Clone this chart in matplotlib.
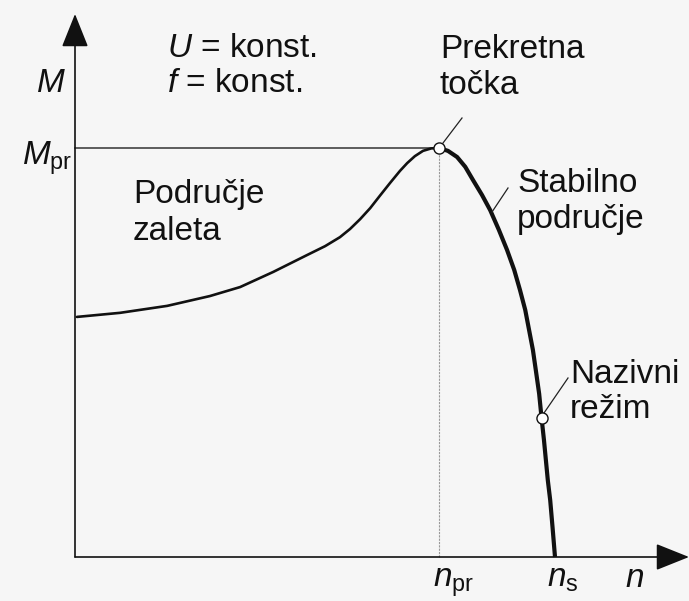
import matplotlib
matplotlib.use("Agg")
import matplotlib.pyplot as plt

plt.rcParams['font.family'] = ['Liberation Sans', 'DejaVu Sans']
plt.rcParams['mathtext.fontset'] = 'custom'
plt.rcParams['mathtext.rm'] = 'Liberation Sans'
plt.rcParams['mathtext.it'] = 'Liberation Sans:italic'

# torque-speed curve, n in units of n_s, M in units of M_pr
n_start = [0.004, 0.094, 0.192, 0.281, 0.344, 0.413, 0.483, 0.521, 0.552,
           0.573, 0.594, 0.615, 0.635, 0.656, 0.677, 0.692, 0.708, 0.725,
           0.742, 0.758]
m_start = [0.587, 0.597, 0.614, 0.638, 0.660, 0.697, 0.738, 0.760, 0.782,
           0.802, 0.826, 0.853, 0.883, 0.914, 0.944, 0.963, 0.980, 0.993,
           0.999, 1.000]
n_stable = [0.758, 0.777, 0.796, 0.813, 0.829, 0.848, 0.865, 0.883, 0.900,
            0.915, 0.927, 0.938, 0.946, 0.954, 0.960, 0.967, 0.972, 0.977,
            0.981, 0.985, 0.990, 0.995, 1.000]
m_stable = [1.000, 0.993, 0.978, 0.954, 0.922, 0.885, 0.848, 0.800, 0.751,
            0.702, 0.653, 0.604, 0.555, 0.506, 0.457, 0.399, 0.340, 0.286,
            0.237, 0.188, 0.139, 0.071, 0.000]

n_pr, M_pr = 0.758, 1.0
n_nom, M_nom = 0.972, 0.340
n_s = 1.0

# pixel -> data helper for the layout (origin at px 75/557, 480 px per n_s, 409 px per M_pr)
def px(x, y):
    return (x - 75) / 480, (557 - y) / 409

fig = plt.figure(figsize=(6.89, 6.01), dpi=100)
fig.patch.set_facecolor('#f6f6f6')
ax = fig.add_axes([0, 0, 1, 1])
ax.set_facecolor('#f6f6f6')
x0, y1 = px(0, 0)
x1, y0 = px(689, 601)
ax.set_xlim(x0, x1)
ax.set_ylim(y0, y1)
ax.axis('off')

ink = '#111111'

# axes with arrows
ax.annotate('', xy=px(75, 14), xytext=(0, 0),
            arrowprops=dict(arrowstyle='-|>,head_length=1.05,head_width=0.42',
                            mutation_scale=20, lw=1.2, color=ink, shrinkA=0, shrinkB=0))
ax.annotate('', xy=px(689, 557), xytext=(0, 0),
            arrowprops=dict(arrowstyle='-|>,head_length=1.05,head_width=0.42',
                            mutation_scale=20, lw=1.2, color=ink, shrinkA=0, shrinkB=0))

# guide lines to the breakdown point
ax.plot([0, n_pr], [M_pr, M_pr], color='#333333', lw=1.1)
ax.plot([n_pr, n_pr], [0, M_pr], color='#999999', lw=0.8, ls=(0, (2, 1)))

# curve
ax.plot(n_start, m_start, color=ink, lw=1.9, solid_capstyle='round', solid_joinstyle='round')
ax.plot(n_stable, m_stable, color=ink, lw=3.0, solid_capstyle='butt', solid_joinstyle='round')

# leader lines
for (xa, ya), (xb, yb) in [((462, 118), (443, 143)),
                           ((508, 188), (492, 212)),
                           ((568, 378), (544, 413))]:
    ax.plot(*zip(px(xa, ya), px(xb, yb)), color='#222222', lw=0.9)

ax.plot([n_pr, n_nom], [M_pr, M_nom], ls='none', marker='o', ms=8,
        mfc='white', mec=ink, mew=1.0, zorder=5)

fs = 24
def label(x, y, s, **kw):
    ax.text(*px(x, y), s, fontsize=kw.pop('fontsize', fs), color=ink,
            va='baseline', ha=kw.pop('ha', 'left'), **kw)

label(167, 57, r'$U$ = konst.')
label(167, 92, r'$f$ = konst.')
label(36, 92, r'$M$')
label(22, 165, r'$M_{\mathrm{pr}}$')
label(133, 203, 'Područje')
label(133, 240, 'zaleta')
label(440, 58, 'Prekretna')
label(440, 94, 'točka')
label(517, 192, 'Stabilno')
label(517, 228, 'područje')
label(570, 383, 'Nazivni')
label(570, 418, 'režim')
label(433, 587, r'$n_{\mathrm{pr}}$')
label(547, 587, r'$n_{\mathrm{s}}$')
label(625, 587, r'$n$')

fig.savefig('out.png', dpi=100, facecolor=fig.get_facecolor())
